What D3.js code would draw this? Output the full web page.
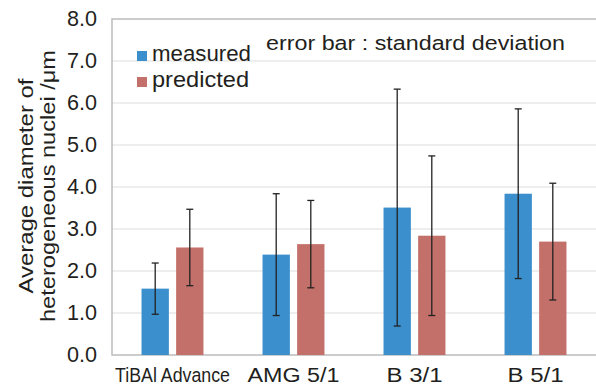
<!DOCTYPE html>
<html>
<head>
<meta charset="utf-8">
<script src="https://cdn.jsdelivr.net/npm/d3@7/dist/d3.min.js"></script>
<style>
  html, body { margin: 0; padding: 0; background: #fff; }
  svg { display: block; font-family: "Liberation Sans", Arial, sans-serif; }
</style>
</head>
<body>
<svg id="chart" width="596" height="386"></svg>
<script>
"use strict";

// data
const categories = ["TiBAl Advance", "AMG 5/1", "B 3/1", "B 5/1"];
const seriesNames = ["measured", "predicted"];
const measuredMean = [1.58, 2.39, 3.51, 3.84];
const measuredSd = [0.61, 1.45, 2.82, 2.02];
const predictedMean = [2.56, 2.64, 2.84, 2.70];
const predictedSd = [0.91, 1.04, 1.90, 1.39];
const yTicks = [0, 1, 2, 3, 4, 5, 6, 7, 8];
const seriesColors = { measured: "#3a8fcc", predicted: "#c3706a" };

const svg = d3.select("#chart");
const margin = { left: 112, right: 0, top: 19, bottom: 31 };
const width = 596, height = 386;

const x0 = d3.scaleBand().domain(categories).range([margin.left, width - margin.right]).padding(0);
const x1 = d3.scaleBand().domain(seriesNames).range([0, x0.bandwidth()]).paddingInner(0.21).paddingOuter(0.854);
const y = d3.scaleLinear().domain([0, 8]).range([height - margin.bottom, margin.top]);

// grid lines
svg.append("g").selectAll("line").data(yTicks.slice(1, -1)).join("line")
  .attr("x1", margin.left).attr("x2", width)
  .attr("y1", d => y(d)).attr("y2", d => y(d))
  .attr("stroke", "#dedede").attr("stroke-width", 1.2);

// frame: left, top, bottom
svg.append("path")
  .attr("d", `M${width},${y(8)}H${margin.left}V${y(0)}H${width}`)
  .attr("fill", "none").attr("stroke", "#bcbcbc").attr("stroke-width", 1.5);

// y axis labels
const yAxis = d3.axisLeft(y).tickValues(yTicks).tickFormat(d3.format(".1f")).tickSize(0).tickPadding(15);
const yg = svg.append("g").attr("transform", `translate(${margin.left},0)`).call(yAxis);
yg.select(".domain").remove();
yg.selectAll("text").attr("font-size", 21.5).attr("fill", "#231f20")
  .attr("font-family", "'Liberation Sans', Arial, sans-serif")
  .attr("textLength", 30).attr("lengthAdjust", "spacingAndGlyphs");

// x axis labels
const xg = svg.append("g").attr("transform", `translate(0,${y(0)})`)
  .call(d3.axisBottom(x0).tickSize(0).tickPadding(12.5));
xg.select(".domain").remove();
const labelWidths = { "TiBAl Advance": 115, "AMG 5/1": 92, "B 3/1": 56, "B 5/1": 56 };
xg.selectAll("text").attr("font-size", 20.5).attr("fill", "#231f20")
  .attr("font-family", "'Liberation Sans', Arial, sans-serif")
  .attr("textLength", d => labelWidths[d]).attr("lengthAdjust", "spacingAndGlyphs");

// bars
const rows = categories.map((c, i) => ({
  category: c,
  values: [
    { key: "measured", mean: measuredMean[i], sd: measuredSd[i] },
    { key: "predicted", mean: predictedMean[i], sd: predictedSd[i] }
  ]
}));

const groups = svg.append("g").selectAll("g").data(rows).join("g")
  .attr("transform", d => `translate(${x0(d.category)},0)`);

groups.selectAll("rect").data(d => d.values).join("rect")
  .attr("x", d => x1(d.key)).attr("width", x1.bandwidth())
  .attr("y", d => y(d.mean)).attr("height", d => y(0) - y(d.mean))
  .attr("fill", d => seriesColors[d.key]);

// error bars
const err = groups.selectAll("g.err").data(d => d.values).join("g").attr("class", "err")
  .attr("stroke", "#222").attr("stroke-width", 1.3);
const cx = d => x1(d.key) + x1.bandwidth() / 2;
err.append("line").attr("x1", cx).attr("x2", cx)
  .attr("y1", d => y(d.mean + d.sd)).attr("y2", d => y(d.mean - d.sd));
err.append("line").attr("x1", d => cx(d) - 3.5).attr("x2", d => cx(d) + 3.5)
  .attr("y1", d => y(d.mean + d.sd)).attr("y2", d => y(d.mean + d.sd));
err.append("line").attr("x1", d => cx(d) - 3.5).attr("x2", d => cx(d) + 3.5)
  .attr("y1", d => y(d.mean - d.sd)).attr("y2", d => y(d.mean - d.sd));

// y axis title
const title = svg.append("text")
  .attr("transform", `translate(0,${y(4) - 1}) rotate(-90)`)
  .attr("text-anchor", "middle").attr("font-size", 20.5).attr("fill", "#231f20");
title.append("tspan").attr("x", 0).attr("y", 33)
  .attr("textLength", 215).attr("lengthAdjust", "spacingAndGlyphs").text("Average diameter of");
title.append("tspan").attr("x", 0).attr("y", 55)
  .attr("textLength", 272).attr("lengthAdjust", "spacingAndGlyphs").text("heterogeneous nuclei /\u03bcm");

// legend
const legendWidths = { measured: 99, predicted: 97 };
const legend = svg.append("g").selectAll("g").data(seriesNames).join("g")
  .attr("transform", (d, i) => `translate(137,${51 + i * 26})`);
legend.append("rect").attr("width", 10).attr("height", 10).attr("fill", d => seriesColors[d]);
legend.append("text").attr("x", 15).attr("y", 10).attr("font-size", 21.5).attr("fill", "#231f20")
  .attr("textLength", d => legendWidths[d]).attr("lengthAdjust", "spacingAndGlyphs").text(d => d);

svg.append("text").attr("x", 266).attr("y", 50).attr("font-size", 20.5).attr("fill", "#231f20")
  .attr("textLength", 299).attr("lengthAdjust", "spacingAndGlyphs")
  .text("error bar : standard deviation");
</script>
</body>
</html>
